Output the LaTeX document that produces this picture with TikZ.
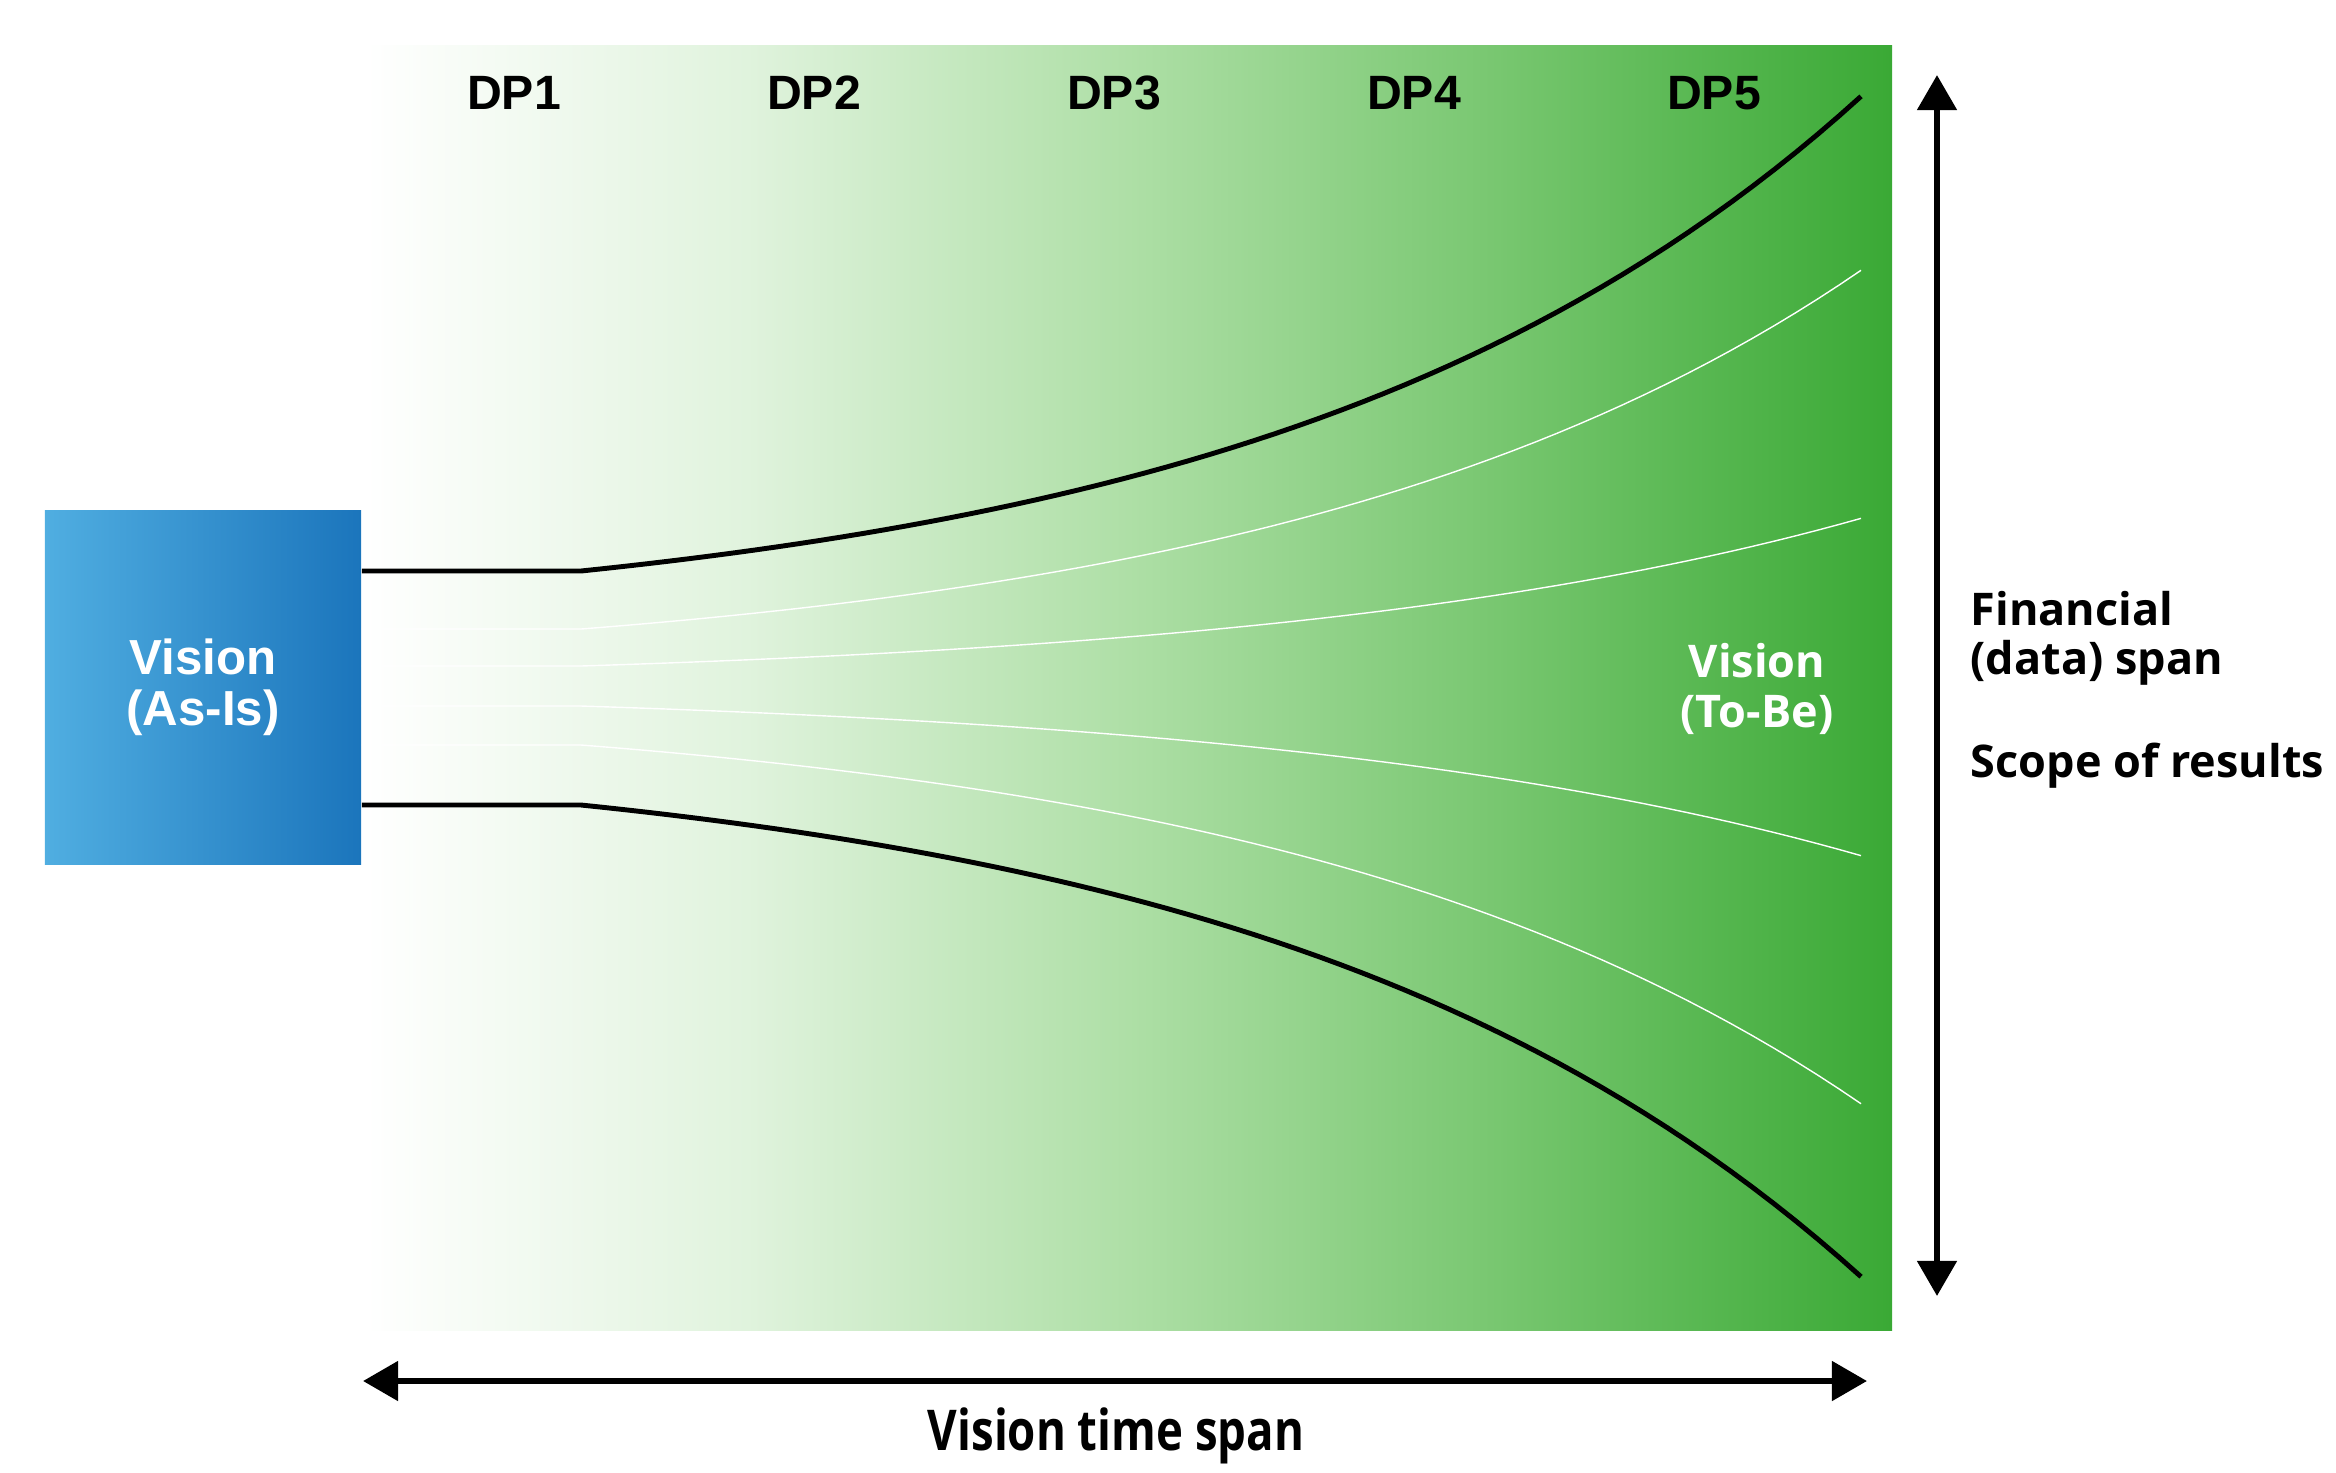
\documentclass[tikz,border=0pt]{standalone}
\usepackage{fontspec}
\setmainfont{Liberation Sans}
\newfontfamily\sidefont{Open Sans}
\newfontfamily\spanfont[FakeStretch=0.81]{Open Sans}
\usetikzlibrary{arrows.meta,positioning}

\definecolor{asisleft}{RGB}{80,174,225}
\definecolor{asisright}{RGB}{27,117,188}
\definecolor{fadeA}{RGB}{224,243,221}
\definecolor{fadeB}{RGB}{174,223,166}
\definecolor{fadeC}{RGB}{118,198,110}
\definecolor{tobegreen}{RGB}{58,169,53}

\pgfdeclarehorizontalshading{greenfade}{100bp}{color(0bp)=(white); color(25bp)=(white); color(37.5bp)=(fadeA); color(50bp)=(fadeB); color(62.5bp)=(fadeC); color(75bp)=(tobegreen); color(100bp)=(tobegreen)}

\tikzstyle{asisbox}=[left color=asisleft, right color=asisright, minimum width=3.16cm, minimum height=3.53cm, inner sep=0, text=white, align=center, font=\fontsize{14}{14.5}\selectfont\bfseries]
\tikzstyle{dplabel}=[anchor=base, inner sep=0, font=\fontsize{13.7}{16}\selectfont\bfseries]
\tikzstyle{sidelabel}=[inner sep=0, align=left, font=\sidefont\bfseries\fontsize{12.8}{14}\selectfont]
\tikzstyle{spread}=[line width=1.4pt]
\tikzstyle{strand}=[white, line width=.4pt]
\tikzstyle{span}=[line width=1.8pt, {Triangle[width=11pt,length=10pt]}-{Triangle[width=11pt,length=10pt]}]

\begin{document}
\begin{tikzpicture}[x=0.01cm, y=-0.01cm]
\useasboundingbox (0,0) rectangle (2336,1472);

%background
\shade[shading=greenfade] (365,45) rectangle (1892,1330);

%start
\node[asisbox] (asis) at (203,687.5) {Vision\\(As-Is)};

%lines
\foreach \ys/\ye/\kind in {571/92/spread, 629/267/strand, 666/517/strand, 706/857/strand, 745/1107/strand, 805/1281/spread}
  \draw[\kind] (asis.east |- 0,\ys) -- (581,\ys) -- plot[domain=0:1280, samples=60] ({581+\x}, {\ys+(\ye-\ys)/7.811*(exp(0.0017*\x)-1)});

%labels
\foreach \i in {1,...,5}
  \node[dplabel] (dp\i) at ({514+300*(\i-1)},109) {DP\i};
\node[sidelabel, text=white, align=center] (tobe) at (1757,689) {Vision\\(To-Be)};
\node[sidelabel, anchor=west] (fin) at (1970,638) {Financial\\(data) span};
\node[sidelabel, anchor=base west] (scope) at (1970,777) {Scope of results};

%spans
\coordinate (spantop) at (1937,75);
\coordinate (spanbottom) at (1937,1296);
\coordinate (spanleft) at (363,1381);
\coordinate (spanright) at (1867,1381);
\draw[span] (spantop) -- (spanbottom);
\draw[span] (spanleft) -- (spanright);
\node[anchor=base, inner sep=0, font=\spanfont\bfseries\fontsize{16}{18}\selectfont] (timespan) at (1116,1450) {Vision time span};

\end{tikzpicture}
\end{document}
